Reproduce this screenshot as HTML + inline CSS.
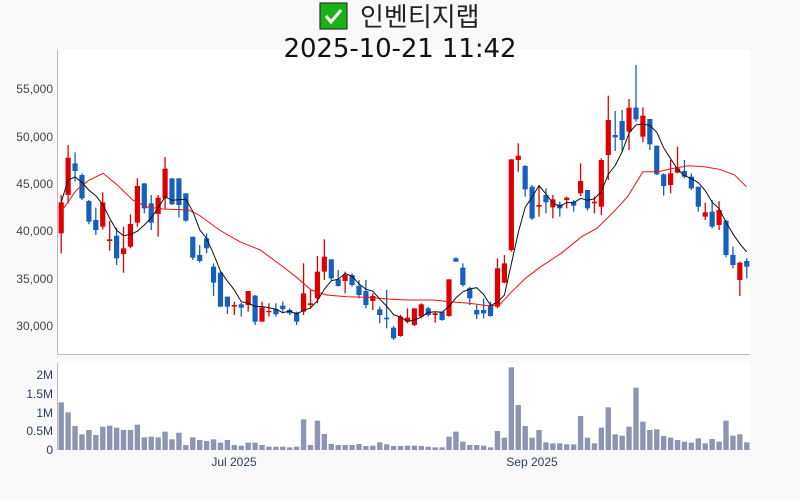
<!DOCTYPE html>
<html><head><meta charset="utf-8"><style>
html,body{margin:0;padding:0;background:#f9f9f9;}
body{width:800px;height:500px;overflow:hidden;position:relative;font-family:"Liberation Sans","Noto Sans CJK KR",sans-serif;}
</style></head><body>
<svg id="s" width="800" height="500" xmlns="http://www.w3.org/2000/svg" style="position:absolute;left:0;top:0">
<rect x="57" y="50" width="693" height="304" fill="#fff"/>
<rect x="57" y="363" width="693" height="87" fill="#fff"/>
<rect x="320" y="3" width="27" height="26" fill="#17b317" stroke="#333" stroke-width="1.2"/>
<path d="M326 16 L331 22 L341 10" fill="none" stroke="#fff" stroke-width="3"/>
<text x="360" y="26" font-size="26" fill="#222" font-family="'Noto Sans CJK KR','Liberation Sans',sans-serif">인벤티지랩</text>
<text x="400" y="57" font-size="26" fill="#111" text-anchor="middle" font-family="'DejaVu Sans','Liberation Sans',sans-serif" textLength="233">2025-10-21 11:42</text>
<g id="g"></g>
<line x1="57.5" y1="50" x2="57.5" y2="354" stroke="#bbb"/>
<line x1="57" y1="354.5" x2="750" y2="354.5" stroke="#bbb"/>
<line x1="57.5" y1="363" x2="57.5" y2="450" stroke="#bbb"/>
<g font-size="12" fill="#444" text-anchor="end">
<text x="53" y="93">55,000</text><text x="53" y="141">50,000</text><text x="53" y="188">45,000</text>
<text x="53" y="235">40,000</text><text x="53" y="283">35,000</text><text x="53" y="330">30,000</text>
</g>
<g font-size="12" fill="#2a3f5f" text-anchor="end">
<text x="53" y="379">2M</text><text x="53" y="398">1.5M</text><text x="53" y="417">1M</text>
<text x="53" y="435">0.5M</text><text x="53" y="454">0</text>
</g>
<g font-size="12" fill="#2a3f5f" text-anchor="middle">
<text x="234" y="466">Jul 2025</text><text x="532" y="466">Sep 2025</text>
</g>
</svg>
<script>
var C=[[1,607,700,585,760],[1,473,585,435,610],[0,490,513,457,545],[0,525,595,520,600],[0,603,665,600,673],[0,660,690,623,705],[1,607,680,577,688],[1,718,723,663,752],[0,707,775,683,795],[1,745,762,680,818],[1,672,740,643,745],[1,558,668,535,680],[0,550,625,550,640],[0,610,668,585,690],[1,593,642,585,710],[1,506,595,471,628],[0,535,613,535,615],[0,535,615,535,653],[0,580,662,580,665],[0,710,773,710,780],[0,765,783,735,788],[0,715,745,700,760],[0,800,848,790,888],[0,818,920,815,920],[0,890,920,890,942],[1,915,920,905,945],[0,913,923,908,950],[1,873,915,873,935],[0,887,965,885,975],[1,922,965,905,965],[1,933,936,910,950],[0,927,943,910,950],[0,917,927,905,935],[0,930,940,925,945],[0,937,965,935,975],[1,880,935,790,945],[1,910,915,870,925],[1,815,895,768,910],[1,770,815,718,840],[0,778,835,778,840],[0,838,858,810,860],[1,825,843,815,880],[0,825,855,820,860],[0,858,885,840,895],[0,873,915,840,925],[1,888,903,880,930],[0,928,945,920,970],[0,953,958,870,985],[0,983,1015,978,1020],[1,950,1008,945,1010],[1,953,965,925,970],[1,925,975,925,978],[1,913,950,910,955],[0,925,945,920,950],[1,940,945,935,968],[0,935,960,935,962],[1,838,948,838,950],[0,775,785,772,785],[0,803,855,790,860],[0,865,895,860,915],[0,930,943,915,957],[0,930,940,895,955],[0,915,948,905,950],[1,805,920,775,925],[1,790,848,765,850],[1,478,750,478,755],[1,467,480,430,515],[0,498,568,495,590],[0,560,655,555,660],[1,615,620,560,650],[0,585,607,565,640],[1,598,622,585,655],[0,613,625,605,650],[1,593,600,590,625],[0,605,617,600,635],[1,543,580,490,588],[0,570,625,570,632],[1,605,610,590,640],[1,480,620,475,645],[1,360,465,287,540],[0,405,412,333,453],[0,363,420,330,455],[1,323,395,297,450],[0,323,358,195,365],[1,347,410,322,427],[0,357,433,357,450],[0,437,523,437,525],[0,523,558,520,587],[1,520,555,480,580],[1,505,518,440,520],[0,513,530,480,535],[0,530,565,520,570],[0,560,620,560,635],[1,637,650,608,660],[0,635,680,600,685],[1,630,675,603,690],[0,662,765,660,772],[0,765,795,740,805],[1,788,840,785,888],[0,783,800,775,835]];
var V=[1207,1237,1278,1303,1290,1305,1280,1277,1283,1290,1290,1274,1312,1310,1312,1295,1318,1298,1335,1312,1320,1323,1318,1328,1320,1335,1337,1328,1328,1335,1340,1340,1340,1342,1340,1258,1335,1262,1302,1332,1335,1335,1335,1332,1338,1337,1327,1333,1338,1338,1337,1337,1338,1340,1342,1342,1310,1295,1325,1335,1335,1337,1342,1293,1313,1102,1215,1278,1313,1290,1327,1330,1330,1333,1333,1248,1313,1330,1283,1222,1303,1307,1280,1163,1265,1290,1288,1308,1313,1320,1325,1328,1315,1330,1317,1325,1262,1307,1303,1327];
var R=[[120,635],[150,570],[175,540],[202,520],[230,555],[260,600],[290,622],[320,627],[370,630],[390,645],[430,690],[470,725],[510,750],[550,795],[580,830],[610,870],[640,885],[680,890],[720,892],[760,897],[800,900],[850,900],[880,905],[920,910],[960,918],[980,913],[1000,880],[1030,835],[1060,800],[1100,760],[1140,710],[1170,685],[1200,640],[1230,590],[1260,515],[1290,515],[1320,505],[1350,497],[1380,500],[1410,508],[1440,525],[1463,560]];
var h='',cl=[];
for(var i=0;i<C.length;i++){var c=C[i],x=61.2+i*6.925,col=c[0]?'#e00000':'#1560bd';
var t=c[1]/3,b=c[2]/3;if(b-t<1.2)b=t+1.2;
h+='<line x1="'+x+'" y1="'+c[3]/3+'" x2="'+x+'" y2="'+c[4]/3+'" stroke="'+col+'" stroke-width="1.3"/>';
h+='<rect x="'+(x-2.6)+'" y="'+t+'" width="5.2" height="'+(b-t)+'" fill="'+col+'"/>';
var vt=V[i]/3;h+='<rect x="'+(x-2.7)+'" y="'+vt+'" width="5.4" height="'+(450-vt)+'" fill="#8d95b2"/>';
cl.push(c[0]?c[1]/3:c[2]/3);}
var p=[];for(var i=0;i<cl.length;i++){var s=0,n=0;for(var j=Math.max(0,i-4);j<=i;j++){s+=cl[j];n++;}p.push((61.2+i*6.925).toFixed(1)+','+(s/n).toFixed(1));}
var r=R.map(function(q){return (q[0]/1.96).toFixed(1)+','+(q[1]/3).toFixed(1)}).join(' ');
h+='<polyline points="'+r+'" fill="none" stroke="#f01010" stroke-width="1"/>';
h+='<polyline points="'+p.join(' ')+'" fill="none" stroke="#111" stroke-width="1"/>';
document.getElementById('g').innerHTML=h;
</script>
</body></html>
